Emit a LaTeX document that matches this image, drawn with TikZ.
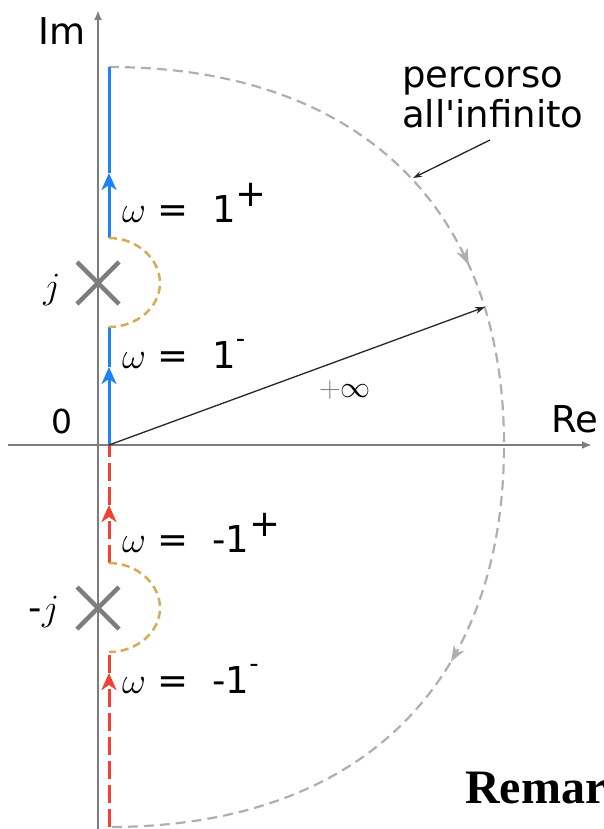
\RequirePackage{fix-cm}
\documentclass[tikz,border=0pt]{standalone}
\usepackage{fontspec}
\setmainfont{DejaVu Sans}
\newfontfamily\headfont{Liberation Serif}
\usetikzlibrary{arrows.meta,decorations.markings}

\definecolor{contourblue}{RGB}{30,130,250}
\definecolor{contourred}{RGB}{240,65,50}
\definecolor{detourgold}{RGB}{215,170,85}
\definecolor{axisgray}{RGB}{125,125,125}
\definecolor{arcgray}{RGB}{175,175,175}

\newcommand{\lblfont}{\fontsize{33}{40}\selectfont}
\newcommand{\bigfont}{\fontsize{37}{44}\selectfont}
\newcommand{\supplus}{\raisebox{0.42em}{+}}
\newcommand{\supminus}{\raisebox{0.2em}{\textsuperscript{-}}}

\begin{document}
\begin{tikzpicture}[x=1pt,y=-1pt,
		axis/.style={axisgray,line width=2.5pt,-{Latex[length=10pt,width=8pt]}},
		cross/.style={axisgray,line width=4.5pt},
		uparrow/.style={-{Stealth[length=17pt,width=15pt,inset=5pt]}},
		bluepath/.style={contourblue,line width=3pt},
		redpath/.style={contourred,line width=3pt,dash pattern=on 18pt off 6pt},
		detour/.style={detourgold,line width=2.5pt,dash pattern=on 8pt off 5pt},
		farpath/.style={arcgray,line width=2.2pt,dash pattern=on 10pt off 6pt},
		ray/.style={black!85,line width=1.3pt,-{Stealth[length=10pt,width=7pt]}},
		pointer/.style={black!85,line width=1.3pt,-{Stealth[length=9pt,width=6pt]}},
		lbl/.style={font=\lblfont,inner sep=0pt},
		biglbl/.style={font=\bigfont,inner sep=0pt}]
	\useasboundingbox (0,0) rectangle (603,829);
	% axes
	\coordinate (rew) at (8,445);
	\coordinate (ree) at (592,445);
	\coordinate (ims) at (98,829);
	\coordinate (imn) at (98,10);
	\draw[axis] (rew) -- (ree);
	\draw[axis] (ims) -- (imn);
	\node[biglbl,anchor=base] (im) at (62,45) {Im};
	\node[biglbl,anchor=base] (re) at (575,432) {Re};
	\node[lbl,anchor=base] (zero) at (62,433) {0};
	% poles
	\coordinate (jpole) at (98,283);
	\coordinate (mjpole) at (98,608);
	\foreach \p in {jpole,mjpole}
		\draw[cross] (\p) ++(-21,-21) -- ++(42,42) (\p) ++(-21,21) -- ++(42,-42);
	\node[biglbl] (jlbl) at (52,290) {$j$};
	\node[biglbl] (mjlbl) at (44,612) {-$j$};
	% contour points
	\coordinate (p0) at (109,445);
	\coordinate (b1) at (109,367);
	\coordinate (jlo) at (109,327);
	\coordinate (jhi) at (109,238);
	\coordinate (b2) at (109,173);
	\coordinate (ptop) at (109,67);
	\coordinate (reaxis) at (504,445);
	\coordinate (pbot) at (109,827);
	\coordinate (r1) at (109,673);
	\coordinate (mjlo) at (109,652);
	\coordinate (mjhi) at (109,563);
	\coordinate (r2) at (109,505);
	% path at infinity
	\draw[farpath,postaction={decorate},decoration={markings,
			mark=at position 0.35 with {\arrow{Stealth[length=16pt,width=12pt,inset=5pt]}},
			mark=at position 0.68 with {\arrow{Stealth[length=16pt,width=12pt,inset=5pt]}}}]
		(ptop) .. controls (358,67) and (504,207) .. (reaxis)
		.. controls (504,686) and (358,827) .. (pbot);
	% positive frequencies
	\draw[bluepath,uparrow] (p0) -- (b1);
	\draw[bluepath] (b1) -- (jlo);
	\draw[bluepath,uparrow] (jhi) -- (b2);
	\draw[bluepath] (b2) -- (ptop);
	% negative frequencies
	\draw[redpath,uparrow] (pbot) -- (r1);
	\draw[redpath] (r1) -- (mjlo);
	\draw[redpath,uparrow] (mjhi) -- (r2);
	\draw[redpath] (r2) -- (p0);
	% detours round the poles
	\draw[detour] (jhi) .. controls (137,238) and (160,259) .. (160,283)
		.. controls (160,307) and (137,327) .. (jlo);
	\draw[detour] (mjhi) .. controls (137,563) and (160,584) .. (160,608)
		.. controls (160,632) and (137,652) .. (mjlo);
	\node[biglbl,anchor=base west] (w1p) at (122,222) {$\omega$ = ~1\supplus};
	\node[biglbl,anchor=base west] (w1m) at (122,368) {$\omega$ = ~1\supminus};
	\node[biglbl,anchor=base west] (wm1p) at (122,552) {$\omega$ = ~-1\supplus};
	\node[biglbl,anchor=base west] (wm1m) at (122,693) {$\omega$ = ~-1\supminus};
	% radius
	\coordinate (rtip) at (485,307);
	\draw[ray] (p0) -- (rtip);
	\node[font=\fontsize{30}{36}\selectfont,inner sep=0pt] (inf) at (345,390) {$\textcolor{gray}{+}\infty$};
	% label of the arc
	\node[biglbl,anchor=base west] (perc) at (402,88) {percorso};
	\node[biglbl,anchor=base west] (infin) at (402,128) {all\textquotesingle infinito};
	\coordinate (tailpt) at (490,140);
	\coordinate (arcpt) at (413,178);
	\draw[pointer] (tailpt) -- (arcpt);
	\begin{scope}
		\clip (0,0) rectangle (603,829);
		\node[font=\headfont\bfseries\fontsize{48}{56}\selectfont,anchor=base west,inner sep=0pt] (remark) at (465,803) {Remarks};
	\end{scope}
\end{tikzpicture}
\end{document}
